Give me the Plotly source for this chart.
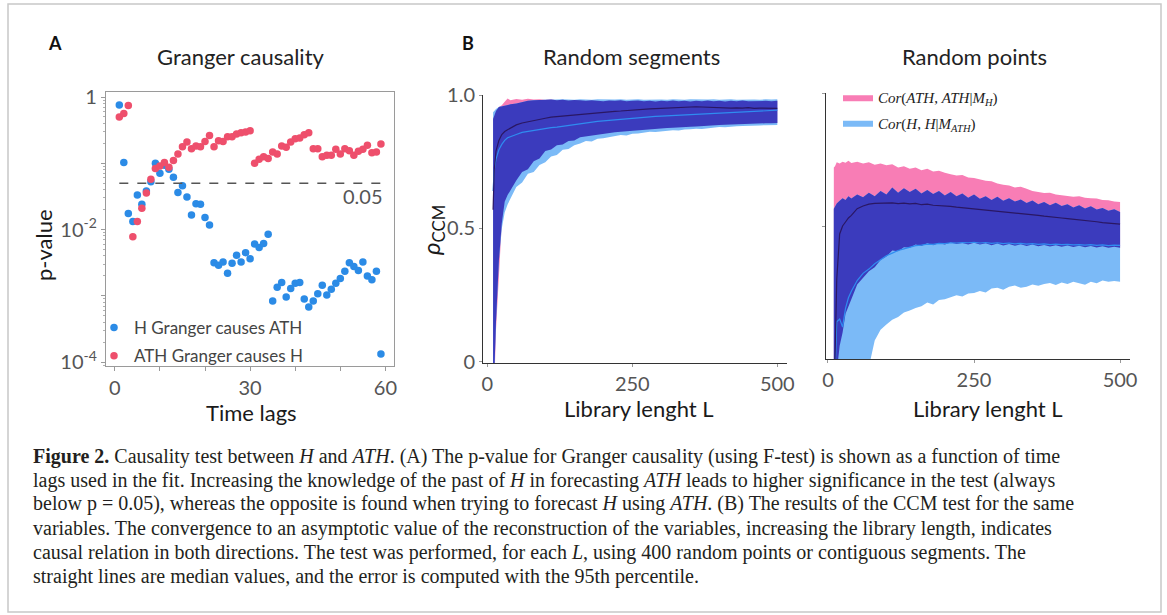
import numpy as np
import plotly.graph_objects as go

# ---------------- Panel A data (Granger causality) ----------------
LAGS = [1, 2, 3, 4, 5, 6, 7, 8, 9, 10, 11, 12, 13, 14, 15, 16, 17, 18, 19, 20,
        21, 22, 23, 24, 25, 26, 27, 28, 29, 30, 31, 32, 33, 34, 35, 36, 37, 38, 39, 40,
        41, 42, 43, 44, 45, 46, 47, 48, 49, 50, 51, 52, 53, 54, 55, 56, 57, 58, 59]
# log10(p-value), H Granger causes ATH
H_CAUSES_ATH_LOG10P = [
    -0.12, -0.99, -1.76, -1.88, -1.48, -1.62, -1.42, -1.28, -1.00, -1.15,
    -1.03, -1.09, -1.21, -1.44, -1.34, -1.51, -1.78, -1.61, -1.62, -1.82,
    -1.93, -2.50, -2.54, -2.49, -2.66, -2.51, -2.39, -2.49, -2.35, -2.44,
    -2.22, -2.27, -2.21, -2.07, -3.08, -2.87, -2.80, -3.02, -2.89, -2.81,
    -2.80, -3.05, -3.17, -3.08, -2.97, -2.84, -2.99, -2.90, -2.81, -2.74,
    -2.63, -2.50, -2.56, -2.62, -2.49, -2.70, -2.76, -2.63, -3.88]
# log10(p-value), ATH Granger causes H
ATH_CAUSES_H_LOG10P = [
    -0.30, -0.25, -0.13, -2.11, -1.88, -1.68, -1.45, -1.24, -1.08, -1.04,
    -0.99, -1.06, -0.96, -0.86, -0.75, -0.68, -0.78, -0.74, -0.75, -0.67,
    -0.58, -0.75, -0.66, -0.67, -0.60, -0.60, -0.56, -0.54, -0.53, -0.51,
    -1.00, -0.94, -0.90, -0.93, -0.83, -0.86, -0.74, -0.76, -0.68, -0.63,
    -0.62, -0.57, -0.54, -0.78, -0.78, -0.90, -0.88, -0.88, -0.79, -0.86,
    -0.78, -0.81, -0.88, -0.82, -0.79, -0.73, -0.84, -0.83, -0.71]
P_THRESHOLD = 0.05
P_TICKS = [1e-4, 1e-3, 1e-2, 1e-1, 1]
P_TICK_TEXT = ["10<sup>-4</sup>", "", "10<sup>-2</sup>", "", "1"]
LAG_TICKS = [0, 10, 20, 30, 40, 50, 60]
LAG_TICK_TEXT = ["0", "", "", "30", "", "", "60"]

# ---------------- Panel B data (CCM) ----------------
LIB_L = [10, 12, 15, 20, 25, 30, 35, 40, 50, 60, 70, 80, 90, 100, 110, 120, 130, 140,
         150, 160, 170, 180, 190, 200, 210, 220, 230, 240, 250, 260, 270, 280, 290, 300,
         310, 320, 330, 340, 350, 360, 370, 380, 390, 400, 410, 420, 430, 440, 450, 460,
         470, 480, 490, 500]

# Random segments
SEG_ATH_HI = [0.91, 0.925, 0.94, 0.955, 0.962, 0.975, 0.987, 0.98,
              0.985, 0.982, 0.986, 0.983, 0.984, 0.981, 0.983, 0.98, 0.982, 0.979,
              0.981, 0.98, 0.978, 0.98, 0.979, 0.977, 0.979, 0.978, 0.98, 0.977,
              0.978, 0.979, 0.977, 0.978, 0.976, 0.978, 0.977, 0.979, 0.977, 0.978,
              0.976, 0.978, 0.977, 0.979, 0.977, 0.978, 0.976, 0.978, 0.977, 0.979,
              0.977, 0.978, 0.977, 0.978, 0.977, 0.978]
SEG_ATH_LO = [-0.5, -0.1, 0.12, 0.33, 0.52, 0.6, 0.625, 0.645,
              0.68, 0.712, 0.722, 0.752, 0.762, 0.79, 0.796, 0.812, 0.815, 0.828,
              0.83, 0.842, 0.845, 0.85, 0.853, 0.856, 0.858, 0.86, 0.862, 0.864,
              0.866, 0.868, 0.87, 0.872, 0.874, 0.875, 0.876, 0.877, 0.879, 0.88,
              0.881, 0.882, 0.884, 0.885, 0.886, 0.888, 0.889, 0.89, 0.89, 0.891,
              0.892, 0.892, 0.893, 0.894, 0.894, 0.895]
SEG_ATH_MED = [0.57, 0.72, 0.79, 0.83, 0.852, 0.863, 0.87, 0.876,
               0.888, 0.895, 0.9, 0.905, 0.909, 0.913, 0.917, 0.919, 0.922, 0.925,
               0.927, 0.929, 0.931, 0.933, 0.935, 0.936, 0.938, 0.939, 0.94, 0.942,
               0.943, 0.945, 0.946, 0.948, 0.949, 0.95, 0.952, 0.953, 0.954, 0.956,
               0.955, 0.956, 0.955, 0.954, 0.953, 0.953, 0.952, 0.951, 0.952, 0.951,
               0.953, 0.95, 0.951, 0.95, 0.95, 0.95]
SEG_H_HI = [0.935, 0.942, 0.948, 0.955, 0.958, 0.96, 0.962, 0.965,
            0.968, 0.974, 0.978, 0.98, 0.981, 0.982, 0.983, 0.982, 0.984, 0.983,
            0.982, 0.984, 0.983, 0.982, 0.984, 0.983, 0.982, 0.983, 0.984, 0.982,
            0.983, 0.984, 0.982, 0.983, 0.984, 0.983, 0.982, 0.984, 0.983, 0.982,
            0.984, 0.983, 0.982, 0.983, 0.984, 0.982, 0.983, 0.984, 0.982, 0.983,
            0.984, 0.983, 0.982, 0.984, 0.983, 0.984]
SEG_H_LO = [-0.4, -0.05, 0.15, 0.38, 0.5, 0.56, 0.59, 0.61,
            0.655, 0.672, 0.705, 0.712, 0.738, 0.748, 0.770, 0.775, 0.795, 0.798,
            0.812, 0.818, 0.828, 0.826, 0.836, 0.838, 0.842, 0.846, 0.850, 0.848,
            0.855, 0.856, 0.858, 0.862, 0.861, 0.864, 0.866, 0.868, 0.867, 0.871,
            0.872, 0.874, 0.873, 0.876, 0.878, 0.88, 0.879, 0.882, 0.883, 0.884,
            0.884, 0.886, 0.886, 0.887, 0.888, 0.888]
SEG_H_MED = [0.64, 0.72, 0.76, 0.795, 0.815, 0.83, 0.84, 0.845,
             0.852, 0.86, 0.864, 0.868, 0.87, 0.875, 0.878, 0.88, 0.883, 0.886,
             0.89, 0.893, 0.897, 0.899, 0.901, 0.903, 0.905, 0.908, 0.91, 0.912,
             0.914, 0.915, 0.917, 0.918, 0.92, 0.921, 0.922, 0.924, 0.925, 0.927,
             0.928, 0.929, 0.93, 0.931, 0.932, 0.933, 0.934, 0.935, 0.936, 0.937,
             0.938, 0.939, 0.94, 0.941, 0.942, 0.943]

# Random points
PTS_ATH_HI = [0.72, 0.725, 0.74, 0.735, 0.742, 0.738, 0.745, 0.737,
              0.742, 0.735, 0.74, 0.73, 0.735, 0.728, 0.732, 0.72, 0.725, 0.715,
              0.72, 0.71, 0.715, 0.705, 0.708, 0.70, 0.695, 0.69, 0.692, 0.682,
              0.68, 0.675, 0.67, 0.668, 0.66, 0.655, 0.652, 0.645, 0.648, 0.64,
              0.632, 0.628, 0.624, 0.625, 0.618, 0.616, 0.614, 0.61, 0.612, 0.606,
              0.604, 0.603, 0.598, 0.597, 0.592, 0.59]
PTS_ATH_LO = [-0.3, -0.2, -0.05, 0.05, 0.1, 0.17, 0.2, 0.225,
              0.28, 0.305, 0.33, 0.345, 0.372, 0.385, 0.408, 0.405, 0.42, 0.418,
              0.43, 0.425, 0.435, 0.428, 0.436, 0.43, 0.438, 0.432, 0.436, 0.43,
              0.437, 0.43, 0.435, 0.428, 0.434, 0.427, 0.432, 0.426, 0.431, 0.425,
              0.43, 0.424, 0.429, 0.423, 0.428, 0.422, 0.427, 0.421, 0.426, 0.42,
              0.425, 0.419, 0.424, 0.418, 0.422, 0.418]
PTS_ATH_MED = [-0.2, 0.06, 0.3, 0.47, 0.5, 0.515, 0.53, 0.54,
               0.565, 0.575, 0.582, 0.585, 0.586, 0.585, 0.587, 0.584, 0.586, 0.583,
               0.585, 0.58, 0.582, 0.578, 0.577, 0.575, 0.574, 0.571, 0.569, 0.566,
               0.565, 0.562, 0.561, 0.558, 0.557, 0.553, 0.551, 0.55, 0.548, 0.546,
               0.542, 0.54, 0.537, 0.534, 0.531, 0.53, 0.528, 0.526, 0.524, 0.522,
               0.518, 0.516, 0.513, 0.511, 0.508, 0.507]
PTS_H_HI = [0.565, 0.573, 0.585, 0.595, 0.604, 0.598, 0.612, 0.603,
            0.618, 0.608, 0.625, 0.612, 0.632, 0.618, 0.645, 0.625, 0.642, 0.628,
            0.64, 0.622, 0.635, 0.62, 0.632, 0.615, 0.628, 0.612, 0.622, 0.606,
            0.618, 0.602, 0.612, 0.598, 0.61, 0.595, 0.604, 0.592, 0.6, 0.586,
            0.596, 0.582, 0.59, 0.578, 0.587, 0.575, 0.582, 0.57, 0.578, 0.566,
            0.574, 0.562, 0.568, 0.557, 0.563, 0.553]
PTS_H_LO = [-0.6, -0.55, -0.5, -0.45, -0.4, -0.35, -0.3, -0.25,
            -0.18, -0.1, -0.03, 0.07, 0.11, 0.13, 0.148, 0.158, 0.175, 0.182,
            0.192, 0.198, 0.212, 0.205, 0.222, 0.225, 0.232, 0.24, 0.235, 0.246,
            0.248, 0.256, 0.25, 0.265, 0.268, 0.26, 0.272, 0.276, 0.268, 0.272,
            0.28, 0.275, 0.282, 0.286, 0.278, 0.288, 0.282, 0.29, 0.285, 0.279,
            0.29, 0.285, 0.295, 0.29, 0.293, 0.29]
PTS_H_MED = [-0.2, -0.05, 0.14, 0.15, 0.12, 0.19, 0.23, 0.255,
             0.295, 0.322, 0.338, 0.358, 0.372, 0.388, 0.398, 0.408, 0.414, 0.42,
             0.426, 0.428, 0.432, 0.431, 0.435, 0.434, 0.437, 0.436, 0.438, 0.437,
             0.439, 0.436, 0.438, 0.435, 0.437, 0.434, 0.436, 0.433, 0.435, 0.432,
             0.434, 0.431, 0.433, 0.43, 0.432, 0.43, 0.431, 0.429, 0.43, 0.428,
             0.43, 0.427, 0.429, 0.426, 0.428, 0.427]

CCM_TICKS_X = [0, 250, 500]
CCM_TICKS_Y = [0, 0.5, 1.0]
CCM_TICK_TEXT_Y = ["0", "0.5", "1.0"]

# ---------------- styling ----------------
W, H = 1167, 615
BLUE_DOT = "#2b8be6"
RED_DOT = "#ee4f6c"
PINK = "#f87db5"
LBLUE = "#7bbaf7"
DARK = "#3b3bbd"
ATH_LINE = "#2a1763"
H_LINE = "#2f8cf0"
SANS = "Lato, Open Sans, sans-serif"
TICK_FONT = dict(family=SANS, size=20, color="#555555")
LABEL_FONT = dict(family=SANS, size=22, color="#1a1a1a")
SERIF = "Liberation Serif, DejaVu Serif, serif"


def px(x):
    return x / W


def py(y):
    return 1 - y / H


fig = go.Figure()

# Panel A
fig.add_trace(go.Scatter(
    x=LAGS, y=[10 ** v for v in H_CAUSES_ATH_LOG10P], mode="markers",
    marker=dict(color=BLUE_DOT, size=7.5), name="H Granger causes ATH",
    xaxis="x", yaxis="y", legend="legend", legendgroup="a1"))
fig.add_trace(go.Scatter(
    x=LAGS, y=[10 ** v for v in ATH_CAUSES_H_LOG10P], mode="markers",
    marker=dict(color=RED_DOT, size=7.5), name="ATH Granger causes H",
    xaxis="x", yaxis="y", legend="legend", legendgroup="a2"))
fig.add_trace(go.Scatter(
    x=[LAGS[0], LAGS[-1]], y=[P_THRESHOLD, P_THRESHOLD], mode="lines",
    line=dict(color="#555555", width=1.6, dash="dash"), showlegend=False,
    xaxis="x", yaxis="y", hoverinfo="skip"))


def add_band(lo, hi, color, xa, ya, name=None, show=False, group=None):
    fig.add_trace(go.Scatter(x=LIB_L, y=lo, mode="lines", line=dict(width=0, color=color),
                             showlegend=False, xaxis=xa, yaxis=ya, hoverinfo="skip"))
    fig.add_trace(go.Scatter(x=LIB_L, y=hi, mode="lines", line=dict(width=0, color=color),
                             fill="tonexty", fillcolor=color, name=name, showlegend=show,
                             xaxis=xa, yaxis=ya, legend="legend2", legendgroup=group,
                             hoverinfo="skip"))


def add_ccm(ath_lo, ath_hi, ath_med, h_lo, h_hi, h_med, xa, ya, legend):
    add_band(ath_lo, ath_hi, PINK, xa, ya,
             "<i>Cor</i>(<i>ATH</i>, <i>ATH</i>|<i>M<sub>H</sub></i>)", legend, "b1")
    add_band(h_lo, h_hi, LBLUE, xa, ya,
             "<i>Cor</i>(<i>H</i>, <i>H</i>|<i>M<sub>ATH</sub></i>)", legend, "b2")
    ov_lo = np.maximum(np.array(ath_lo), np.array(h_lo))
    ov_hi = np.maximum(np.minimum(np.array(ath_hi), np.array(h_hi)), ov_lo)
    add_band(list(ov_lo), list(ov_hi), DARK, xa, ya)
    fig.add_trace(go.Scatter(x=LIB_L, y=h_med, mode="lines", line=dict(color=H_LINE, width=1.2),
                             showlegend=False, xaxis=xa, yaxis=ya, hoverinfo="skip"))
    fig.add_trace(go.Scatter(x=LIB_L, y=ath_med, mode="lines", line=dict(color=ATH_LINE, width=1.2),
                             showlegend=False, xaxis=xa, yaxis=ya, hoverinfo="skip"))


add_ccm(SEG_ATH_LO, SEG_ATH_HI, SEG_ATH_MED, SEG_H_LO, SEG_H_HI, SEG_H_MED, "x2", "y2", False)
add_ccm(PTS_ATH_LO, PTS_ATH_HI, PTS_ATH_MED, PTS_H_LO, PTS_H_HI, PTS_H_MED, "x3", "y3", True)

axis_common = dict(showgrid=False, zeroline=False, showline=True, ticks="outside",
                   tickfont=TICK_FONT, automargin=False)

fig.update_layout(
    width=W, height=H, margin=dict(l=0, r=0, t=0, b=0, pad=0, autoexpand=False),
    paper_bgcolor="white", plot_bgcolor="white",
    xaxis=dict(domain=[px(106), px(394)], range=[-1.95, 61.9], tickvals=LAG_TICKS,
               ticktext=LAG_TICK_TEXT, mirror=True, linecolor="#9a9a9a", linewidth=1.2,
               tickcolor="#9a9a9a", ticklen=4, anchor="y", **axis_common),
    yaxis=dict(domain=[py(366), py(92)], type="log", range=[-4.06, 0.0755],
               tickvals=P_TICKS, ticktext=P_TICK_TEXT, mirror=True, linecolor="#9a9a9a",
               linewidth=1.2, tickcolor="#9a9a9a", ticklen=4, anchor="x",
               minor=dict(ticks="outside", ticklen=2, tickcolor="#b0b0b0", dtick="D1"),
               **axis_common),
    xaxis2=dict(domain=[px(483), px(787)], range=[-7.4, 516.7], tickvals=CCM_TICKS_X,
                linecolor="#333333", linewidth=1, tickcolor="#999999", ticklen=3, anchor="y2",
                **axis_common),
    yaxis2=dict(domain=[py(363), py(95)], range=[-0.004, 1.0], tickvals=CCM_TICKS_Y,
                ticktext=CCM_TICK_TEXT_Y, linecolor="#333333", linewidth=1,
                tickcolor="#999999", ticklen=3, anchor="x2", **axis_common),
    xaxis3=dict(domain=[px(826), px(1130)], range=[-3.4, 517], tickvals=CCM_TICKS_X,
                linecolor="#333333", linewidth=1, tickcolor="#999999", ticklen=3, anchor="y3",
                **axis_common),
    yaxis3=dict(domain=[py(359), py(93)], range=[0, 1.0], tickvals=[0.5, 1.0],
                showticklabels=False, linecolor="#333333", linewidth=1,
                tickcolor="#999999", ticklen=3, anchor="x3", **axis_common),
    legend=dict(x=px(94), y=py(310), xanchor="left", yanchor="top",
                bgcolor="rgba(0,0,0,0)", font=dict(family=SANS, size=17, color="#444444"),
                tracegroupgap=3, itemwidth=30),
    legend2=dict(x=px(838), y=py(81), xanchor="left", yanchor="top",
                 bgcolor="rgba(0,0,0,0)", font=dict(family=SERIF, size=15, color="#222222"),
                 tracegroupgap=3, itemwidth=30),
    showlegend=True,
)

# frame
fig.add_shape(type="rect", xref="paper", yref="paper", x0=px(8), x1=px(1161),
              y0=py(612), y1=py(4), line=dict(color="#c8c8c8", width=1.5))

ann = []


def text(x, y, s, font, xanchor="center", yanchor="middle", angle=0):
    ann.append(dict(x=px(x), y=py(y), xref="paper", yref="paper", text=s, showarrow=False,
                    font=font, xanchor=xanchor, yanchor=yanchor, textangle=angle))


TITLE_FONT = dict(family=SANS, size=22, color="#222222")
text(241, 57, "Granger causality", TITLE_FONT)
text(631, 57, "Random segments", TITLE_FONT)
text(974, 57, "Random points", TITLE_FONT)
text(55, 43, "<b>A</b>", dict(family=SANS, size=18, color="#111111"))
text(468, 43, "<b>B</b>", dict(family=SANS, size=18, color="#111111"))
text(43, 245, "p-value", LABEL_FONT, angle=-90)
text(251, 412, "Time lags", LABEL_FONT)
text(639, 408, "Library lenght L", LABEL_FONT)
text(988, 408, "Library lenght L", LABEL_FONT)
text(432, 230, "<i>ρ</i><sub>CCM</sub>", dict(family=SANS, size=24, color="#1a1a1a"), angle=-90)
text(385, 196, "0.05", TICK_FONT, xanchor="right")

CAPTION = [
    "<b>Figure 2.</b> Causality test between <i>H</i> and <i>ATH</i>. (A) The p-value for Granger causality (using F-test) is shown as a function of time",
    "lags used in the fit. Increasing the knowledge of the past of <i>H</i> in forecasting <i>ATH</i> leads to higher significance in the test (always",
    "below p = 0.05), whereas the opposite is found when trying to forecast <i>H</i> using <i>ATH</i>. (B) The results of the CCM test for the same",
    "variables. The convergence to an asymptotic value of the reconstruction of the variables, increasing the library length, indicates",
    "causal relation in both directions. The test was performed, for each <i>L</i>, using 400 random points or contiguous segments. The",
    "straight lines are median values, and the error is computed with the 95th percentile.",
]
CAP_FONT = dict(family=SERIF, size=20, color="#231f20")
for i, line in enumerate(CAPTION):
    text(31, 456 + 24 * i, line, CAP_FONT, xanchor="left")

fig.update_layout(annotations=ann)
fig.write_html("out.html", config={"displayModeBar": False},
               post_script="document.body.style.margin='0px';"
                           "document.body.style.overflow='hidden';")
